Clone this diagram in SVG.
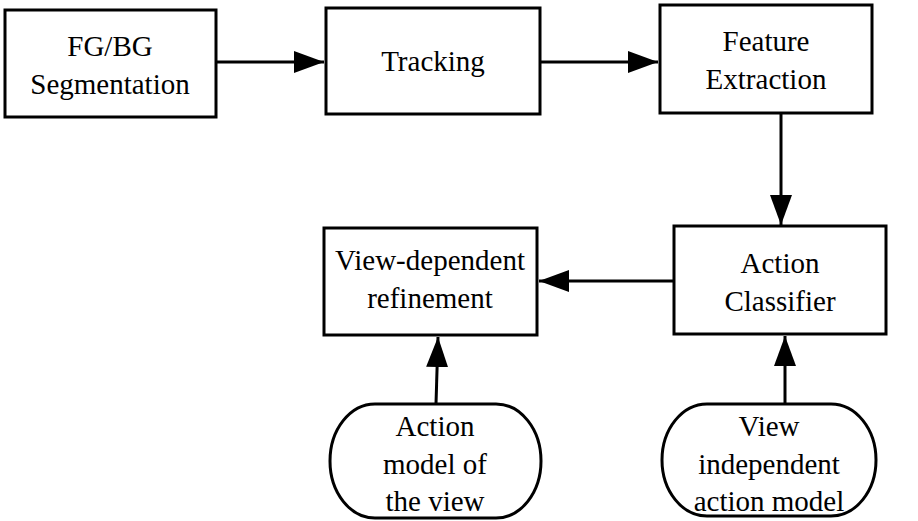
<svg xmlns="http://www.w3.org/2000/svg" width="918" height="521" viewBox="0 0 918 521">
<style>
.box{fill:#fff;stroke:#000;stroke-width:3}
.conn{stroke:#000;stroke-width:3;fill:none}
.t{font-family:"Liberation Serif","Times New Roman",Times,serif;font-size:29px;fill:#000;text-anchor:middle}
</style>
<defs>
<marker id="arr" viewBox="0 0 30 22" refX="30" refY="11" markerWidth="30" markerHeight="22" orient="auto" markerUnits="userSpaceOnUse">
<path d="M0,0 L30,11 L0,22 Z" fill="#000"/>
</marker>
</defs>
<rect width="918" height="521" fill="#fff"/>
<g id="connectors">
<line class="conn" x1="216" y1="62" x2="324" y2="62" marker-end="url(#arr)"/>
<line class="conn" x1="540" y1="62" x2="658" y2="62" marker-end="url(#arr)"/>
<line class="conn" x1="781" y1="113" x2="781" y2="225" marker-end="url(#arr)"/>
<line class="conn" x1="674" y1="281" x2="539" y2="281" marker-end="url(#arr)"/>
<line class="conn" x1="436" y1="404" x2="438" y2="337" marker-end="url(#arr)"/>
<line class="conn" x1="785" y1="404" x2="785" y2="336" marker-end="url(#arr)"/>
</g>
<g class="t" font-family="Liberation Serif, Times New Roman, serif">
<g id="n1"><rect class="box" x="5" y="10" width="211" height="107"/><text x="110" y="56">FG/BG</text><text x="110" y="94">Segmentation</text></g>
<g id="n2"><rect class="box" x="326" y="8" width="214" height="106"/><text x="433" y="71">Tracking</text></g>
<g id="n3"><rect class="box" x="660" y="5" width="212" height="108"/><text x="766" y="51">Feature</text><text x="766" y="89">Extraction</text></g>
<g id="n4"><rect class="box" x="324" y="228" width="213" height="107"/><text x="430" y="270">View-dependent</text><text x="430" y="308">refinement</text></g>
<g id="n5"><rect class="box" x="674" y="226" width="212" height="108"/><text x="780" y="273">Action</text><text x="780" y="311">Classifier</text></g>
<g id="n6"><rect class="box" x="330" y="404" width="211" height="114" rx="45" ry="57"/><text x="435" y="436">Action</text><text x="435" y="474">model of</text><text x="435" y="511">the view</text></g>
<g id="n7"><rect class="box" x="662" y="404" width="214" height="112" rx="45" ry="56"/><text x="769" y="436">View</text><text x="769" y="474">independent</text><text x="769" y="511">action model</text></g>
</g>
</svg>
